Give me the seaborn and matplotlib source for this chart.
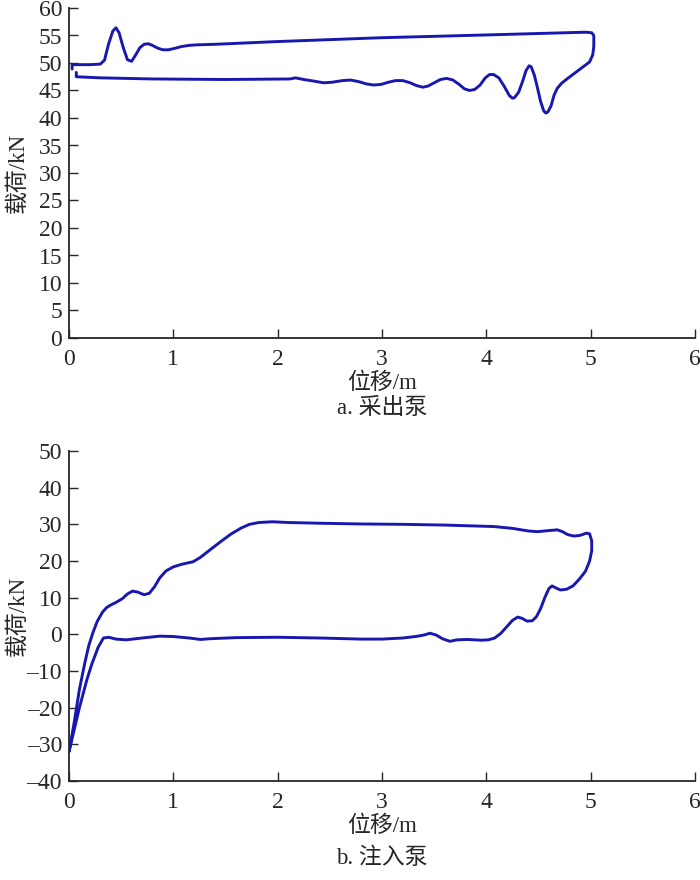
import matplotlib
matplotlib.use("Agg")
import matplotlib.pyplot as plt
import numpy as np
import seaborn as sns
import pandas as pd

# a. 采出泵 -- displacement (m) / load (kN)
a_disp = [0.03, 0.03, 0.10, 0.20, 0.30, 0.34, 0.38, 0.42, 0.45, 0.48, 0.52, 0.56, 0.60, 0.64,
          0.68, 0.72, 0.76, 0.80, 0.85, 0.90, 0.95, 1.00, 1.08, 1.15, 1.22, 1.40, 2.00, 3.00,
          4.00, 4.95, 5.01,
          5.03, 5.03, 5.02, 4.99, 4.92, 4.85, 4.78, 4.72, 4.68,
          4.65, 4.62, 4.59, 4.57, 4.55, 4.52, 4.49, 4.46, 4.43, 4.41, 4.38, 4.35, 4.31, 4.27,
          4.25, 4.22, 4.17, 4.12, 4.07, 4.03, 3.99, 3.94, 3.89, 3.84, 3.79, 3.74, 3.68, 3.62,
          3.56, 3.50, 3.44, 3.39, 3.33, 3.27, 3.20, 3.13, 3.06, 2.99, 2.92, 2.85, 2.78, 2.70,
          2.62, 2.52, 2.44, 2.35, 2.25, 2.17, 2.12, 1.50, 0.80, 0.30, 0.07, 0.07]
a_load = [48.9, 49.7, 49.7, 49.7, 49.8, 50.5, 53.5, 55.8, 56.4, 55.5, 52.8, 50.6, 50.3, 51.5,
          52.8, 53.4, 53.5, 53.2, 52.7, 52.4, 52.4, 52.6, 53.0, 53.2, 53.3, 53.4, 53.9, 54.6,
          55.1, 55.6, 55.5,
          55.0, 53.0, 51.5, 50.2, 49.2, 48.2, 47.2, 46.3, 45.4,
          44.2, 42.2, 41.1, 40.9, 41.3, 43.0, 45.5, 47.8, 49.3, 49.5, 48.6, 46.8, 44.7, 43.7,
          43.6, 44.1, 45.8, 47.3, 47.9, 47.9, 47.3, 46.0, 45.2, 45.0, 45.3, 46.1, 46.9, 47.2,
          47.0, 46.4, 45.8, 45.6, 45.9, 46.4, 46.8, 46.8, 46.5, 46.1, 46.0, 46.2, 46.6, 46.9,
          46.8, 46.5, 46.4, 46.7, 47.0, 47.3, 47.1, 47.0, 47.1, 47.3, 47.5, 48.3]

# b. 注入泵
b_disp = [0.00, 0.05, 0.10, 0.15, 0.19, 0.23, 0.27, 0.32, 0.36, 0.40, 0.45, 0.51, 0.56, 0.61,
          0.66, 0.72, 0.77, 0.82, 0.87, 0.93, 1.00, 1.08, 1.19, 1.26, 1.35, 1.45, 1.55, 1.65,
          1.73, 1.82, 1.95, 2.10, 2.40, 2.80, 3.20, 3.60, 4.07, 4.25, 4.40, 4.49, 4.60, 4.68,
          4.73, 4.78, 4.84, 4.90, 4.96, 4.99, 5.01, 5.01, 4.99, 4.95, 4.89, 4.83, 4.77, 4.71,
          4.67, 4.63, 4.60, 4.56, 4.52, 4.48, 4.44, 4.39, 4.34, 4.30, 4.25, 4.20, 4.14, 4.08,
          4.02, 3.95, 3.82, 3.72, 3.65, 3.58, 3.52, 3.46, 3.40, 3.32, 3.20, 3.00, 2.80, 2.40,
          2.00, 1.60, 1.35, 1.26, 1.15, 1.00, 0.87, 0.70, 0.55, 0.45, 0.38, 0.33, 0.28, 0.22,
          0.17, 0.10, 0.05, 0.00]
b_load = [-32.0, -24.0, -15.0, -8.0, -3.0, 0.5, 3.5, 6.0, 7.3, 8.0, 8.7, 9.7, 11.0, 11.8,
          11.5, 10.8, 11.2, 13.0, 15.4, 17.3, 18.4, 19.1, 19.8, 21.0, 23.0, 25.2, 27.3, 29.0,
          30.0, 30.5, 30.7, 30.5, 30.3, 30.1, 30.0, 29.8, 29.4, 28.9, 28.2, 28.0, 28.3, 28.5,
          28.0, 27.2, 26.8, 27.0, 27.6, 27.4, 25.5, 22.8, 20.0, 17.2, 15.0, 13.2, 12.3, 12.1,
          12.6, 13.2, 12.5, 10.0, 7.0, 4.8, 3.7, 3.6, 4.4, 4.7, 3.8, 2.2, 0.3, -1.0,
          -1.5, -1.6, -1.4, -1.5, -1.9, -1.2, -0.2, 0.3, -0.2, -0.6, -1.0, -1.3, -1.3, -1.0,
          -0.8, -0.9, -1.2, -1.4, -1.0, -0.6, -0.5, -1.0, -1.5, -1.3, -0.8, -1.0, -3.5, -8.0,
          -12.5, -20.0, -26.0, -32.0]

x_ticks = [0, 1, 2, 3, 4, 5, 6]
a_yticks = list(range(0, 61, 5))
b_yticks = list(range(-40, 51, 10))

sns.set_style("ticks")
plt.rcParams['font.family'] = ['Liberation Serif', 'Noto Sans CJK SC']
plt.rcParams['axes.unicode_minus'] = False

LINE = "#1818b0"


def draw_card(fig, ax, disp, load, yticks, caption, cap_y):
	df = pd.DataFrame({"disp": disp, "load": load})
	sns.lineplot(data=df, x="disp", y="load", sort=False, estimator=None,
				 color=LINE, linewidth=2.1, ax=ax)
	ax.set_xlim(0, 6)
	ax.set_ylim(yticks[0], yticks[-1])
	ax.set_xticks(x_ticks)
	ax.set_yticks(yticks)
	ax.set_yticklabels([("\u2013" + str(-t)) if t < 0 else str(t) for t in yticks])
	ax.tick_params(direction="in", length=6.5, width=1, labelsize=17)
	ax.tick_params(axis="x", pad=8)
	ax.tick_params(axis="y", pad=5)
	sns.despine(ax=ax)
	for s in ["left", "bottom"]:
		ax.spines[s].set_linewidth(1.3)
	ax.set_xlabel("位移/m", fontsize=16.5)
	ax.xaxis.set_label_coords(0.5, -35 / 330)
	ax.set_ylabel("载荷/kN", fontsize=16.5)
	ax.yaxis.set_label_coords(-40 / 626, 0.5)
	fig.text(382 / 700, 1 - cap_y / 880, caption, ha="center", va="center", fontsize=16.5)


fig = plt.figure(figsize=(7, 8.8), dpi=100)
ax1 = fig.add_axes([69 / 700, 1 - 338 / 880, 626 / 700, 330 / 880])
ax2 = fig.add_axes([69 / 700, 1 - 781 / 880, 626 / 700, 330 / 880])

draw_card(fig, ax1, a_disp, a_load, a_yticks, "a. 采出泵", 408)
draw_card(fig, ax2, b_disp, b_load, b_yticks, "b. 注入泵", 858)

fig.savefig("out.png", dpi=100)
